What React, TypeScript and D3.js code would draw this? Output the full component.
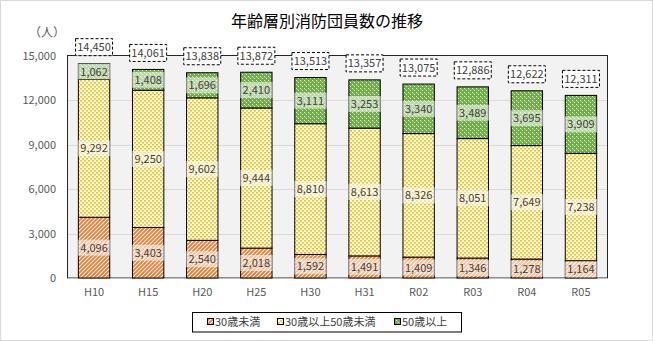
import React from "react";
import * as d3 from "d3";

const categories = ["H10", "H15", "H20", "H25", "H30", "H31", "R02", "R03", "R04", "R05"];
const under30 = [4096, 3403, 2540, 2018, 1592, 1491, 1409, 1346, 1278, 1164];
const age30to50 = [9292, 9250, 9602, 9444, 8810, 8613, 8326, 8051, 7649, 7238];
const over50 = [1062, 1408, 1696, 2410, 3111, 3253, 3340, 3489, 3695, 3909];
const totals = [14450, 14061, 13838, 13872, 13513, 13357, 13075, 12886, 12622, 12311];
const seriesNames = ["30歳未満", "30歳以上50歳未満", "50歳以上"];
const yTicks = [0, 3000, 6000, 9000, 12000, 15000];
const title = "年齢層別消防団員数の推移";
const unitLabel = "（人）";

const W = 653, H = 341;
const plot = { left: 67, right: 608, top: 55.5, bottom: 278 };
const FONT = "'Noto Sans CJK JP', 'Noto Sans', sans-serif";
const patternIds = ["pat-orange", "pat-yellow", "pat-green"];

export default function App() {
  const x = d3.scaleBand().domain(categories).range([plot.left, plot.right]).paddingInner(0.42).paddingOuter(0.21);
  const y = d3.scaleLinear().domain([0, 15000]).range([plot.bottom, plot.top]);
  const fmt = d3.format(",");

  const table = categories.map((c, i) => ({ cat: c, s0: under30[i], s1: age30to50[i], s2: over50[i] }));
  const stack = d3.stack<any>().keys(["s0", "s1", "s2"])(table);
  const bw = x.bandwidth();

  const legendItems = [
    { x: 207, label: seriesNames[0] },
    { x: 277, label: seriesNames[1] },
    { x: 394, label: seriesNames[2] },
  ];

  return (
    <div style={{ position: "fixed", left: 0, top: 0 }}>
      <svg width={W} height={H} style={{ display: "block", fontFamily: FONT }}>
        <defs>
          <pattern id="pat-orange" patternUnits="userSpaceOnUse" width="4" height="4">
            <rect width="4" height="4" fill="#ffffff" />
            <path d="M-1,1 L1,-1 M0,4 L4,0 M3,5 L5,3" stroke="#ED7D31" strokeWidth="1.9" />
          </pattern>
          <pattern id="pat-yellow" patternUnits="userSpaceOnUse" width="4" height="4">
            <rect width="4" height="4" fill="#ffffff" />
            <rect x="0" y="0" width="2" height="1.6" fill="#FFC000" />
            <rect x="2" y="2" width="2" height="1.6" fill="#FFC000" />
          </pattern>
          <pattern id="pat-green" patternUnits="userSpaceOnUse" width="4" height="4">
            <rect width="4" height="4" fill="#70AD47" />
            <rect x="0" y="0" width="1" height="1" fill="#e2efd9" />
            <rect x="2" y="2" width="1" height="1" fill="#e2efd9" />
            <rect x="1" y="1" width="1" height="1" fill="#a9d18e" />
          </pattern>
        </defs>

        <rect x={0.5} y={0.5} width={W - 1} height={H - 1} fill="#ffffff" stroke="#d9d9d9" />

        <text x={327} y={27} textAnchor="middle" fontSize={16} fill="#000">{title}</text>
        <text x={47} y={37} textAnchor="middle" fontSize={12} fill="#595959">{unitLabel}</text>

        <rect x={plot.left} y={plot.top} width={plot.right - plot.left} height={plot.bottom - plot.top} fill="#f2f2f2" />
        {yTicks.map((t) => (
          <g key={t}>
            {t > 0 && t < 15000 && (
              <line x1={plot.left} x2={plot.right} y1={Math.round(y(t)) + 0.5} y2={Math.round(y(t)) + 0.5} stroke="#d9d9d9" />
            )}
            <text x={56} y={y(t) + 4} textAnchor="end" fontSize={11} fill="#595959">{fmt(t)}</text>
          </g>
        ))}
        <rect x={plot.left + 0.5} y={plot.top} width={plot.right - plot.left - 1} height={plot.bottom - plot.top} fill="none" stroke="#262626" />
        <line x1={plot.left} x2={plot.right} y1={plot.bottom + 0.5} y2={plot.bottom + 0.5} stroke="#bfbfbf" />

        {stack.map((layer, li) => (
          <g key={li}>
            {layer.map((d: any, i: number) => {
              const x0 = x(categories[i])!;
              return (
                <rect key={i} x={x0} y={y(d[1])} width={bw} height={y(d[0]) - y(d[1])}
                  fill={`url(#${patternIds[li]})`} stroke="#000" strokeWidth={1} />
              );
            })}
          </g>
        ))}

        {stack.map((layer, li) => (
          <g key={"l" + li}>
            {layer.map((d: any, i: number) => {
              const x0 = x(categories[i])!;
              const cy = (y(d[0]) + y(d[1])) / 2;
              const v = d[1] - d[0];
              return (
                <g key={i}>
                  <rect x={x0 - 0.5} y={cy - 8} width={bw + 1} height={16} fill="#ffffff" fillOpacity={0.55} />
                  <text x={x0 + bw / 2} y={cy + 4} textAnchor="middle" fontSize={11} fill="#404040">{fmt(v)}</text>
                </g>
              );
            })}
          </g>
        ))}

        {categories.map((c, i) => {
          const cx = x(c)! + bw / 2;
          const top = y(d3.sum([under30[i], age30to50[i], over50[i]]));
          const bh = 17, bwid = 37;
          return (
            <g key={"t" + c}>
              <rect x={cx - bwid / 2} y={top - 8 - bh} width={bwid} height={bh} fill="#ffffff" stroke="#000" strokeDasharray="3,2" />
              <text x={cx} y={top - 8 - bh / 2 + 4} textAnchor="middle" fontSize={11} fill="#404040">{fmt(totals[i])}</text>
              <text x={cx} y={296} textAnchor="middle" fontSize={11} fill="#595959">{c}</text>
            </g>
          );
        })}

        <rect x={192.5} y={312.5} width={269} height={19.5} fill="#ffffff" stroke="#000" />
        {legendItems.map((it, i) => (
          <g key={"lg" + i}>
            <rect x={it.x + 0.5} y={318.5} width={6} height={6} fill={`url(#${patternIds[i]})`} stroke="#000" />
            <text x={it.x + 8} y={326} fontSize={11} fill="#404040">{it.label}</text>
          </g>
        ))}
      </svg>
    </div>
  );
}
